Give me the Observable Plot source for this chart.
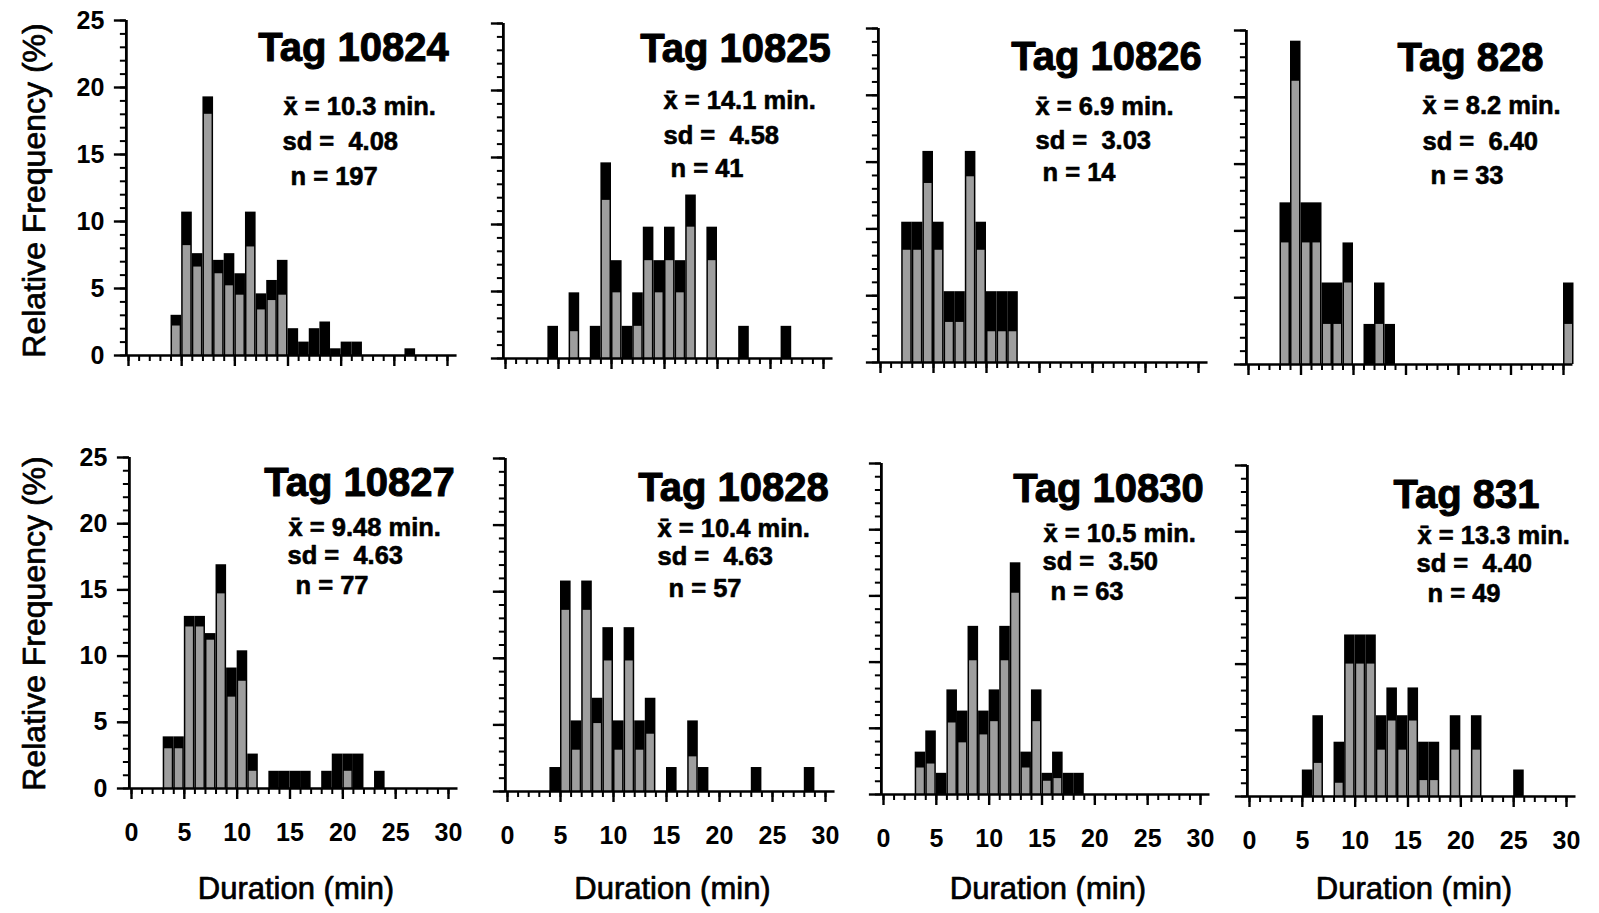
<!DOCTYPE html>
<html>
<head>
<meta charset="utf-8">
<script src="https://cdn.jsdelivr.net/npm/d3@7"></script>
<script src="https://cdn.jsdelivr.net/npm/@observablehq/plot@0.6"></script>
<style>
  body { margin: 0; background: #fff; }
  #page { position: relative; width: 1599px; height: 913px; overflow: hidden; background: #fff;
          font-family: "Liberation Sans", Arial, sans-serif; }
  #page svg { position: absolute; }
</style>
</head>
<body>
<div id="page"></div>
<script>
// ---------------- DATA ----------------
const tagNames = ["Tag 10824", "Tag 10825", "Tag 10826", "Tag 828",
                  "Tag 10827", "Tag 10828", "Tag 10830", "Tag 831"];
const meanLabels = ["10.3", "14.1", "6.9", "8.2", "9.48", "10.4", "10.5", "13.3"];
const sdLabels = ["4.08", "4.58", "3.03", "6.40", "4.63", "4.63", "3.50", "4.40"];
const nLabels = ["197", "41", "14", "33", "77", "57", "63", "49"];

// bin start (minutes), total bar height (%), shaded (grey) part (%)
const tag10824Bins   = [4, 5, 6, 7, 8, 9, 10, 11, 12, 13, 14, 15, 16, 17, 18, 19, 20, 21, 26];
const tag10824Total  = [3.0, 10.7, 7.6, 19.3, 7.1, 7.6, 6.1, 10.7, 4.6, 5.6, 7.1, 2.0, 1.0, 2.0, 2.5, 0.5, 1.0, 1.0, 0.5];
const tag10824Shaded = [2.2, 8.2, 6.6, 18.0, 6.1, 5.2, 4.5, 8.1, 3.4, 4.1, 4.5, 0, 0, 0, 0, 0, 0, 0, 0];

const tag10825Bins   = [4, 6, 8, 9, 10, 11, 12, 13, 14, 15, 16, 17, 19, 22, 26];
const tag10825Total  = [2.4, 4.9, 2.4, 14.6, 7.3, 2.4, 4.9, 9.8, 7.3, 9.8, 7.3, 12.2, 9.8, 2.4, 2.4];
const tag10825Shaded = [0, 2.0, 0, 11.8, 4.9, 0, 2.4, 7.3, 4.9, 7.3, 4.9, 9.8, 7.3, 0, 0];

const tag10826Bins   = [2, 3, 4, 5, 6, 7, 8, 9, 10, 11, 12];
const tag10826Total  = [10.5, 10.5, 15.8, 10.5, 5.3, 5.3, 15.8, 10.5, 5.3, 5.3, 5.3];
const tag10826Shaded = [8.4, 8.4, 13.4, 8.4, 3.0, 3.0, 13.9, 8.4, 2.3, 2.3, 2.3];

const tag828Bins   = [3, 4, 5, 6, 7, 8, 9, 11, 12, 13, 30];
const tag828Total  = [12.1, 24.2, 12.1, 12.1, 6.1, 6.1, 9.1, 3.0, 6.1, 3.0, 6.1];
const tag828Shaded = [9.1, 21.2, 9.1, 9.1, 3.0, 3.0, 6.1, 0, 3.0, 0, 3.0];

const tag10827Bins   = [3, 4, 5, 6, 7, 8, 9, 10, 11, 13, 14, 15, 16, 18, 19, 20, 21, 23];
const tag10827Total  = [3.9, 3.9, 13.0, 13.0, 11.7, 16.9, 9.1, 10.4, 2.6, 1.3, 1.3, 1.3, 1.3, 1.3, 2.6, 2.6, 2.6, 1.3];
const tag10827Shaded = [3.0, 3.0, 12.2, 12.2, 11.2, 14.7, 6.9, 8.1, 1.3, 0, 0, 0, 0, 0, 0, 1.3, 0, 0];

const tag10828Bins   = [4, 5, 6, 7, 8, 9, 10, 11, 12, 13, 15, 17, 18, 23, 28];
const tag10828Total  = [1.8, 15.8, 5.3, 15.8, 7.0, 12.3, 5.3, 12.3, 5.3, 7.0, 1.8, 5.3, 1.8, 1.8, 1.8];
const tag10828Shaded = [0, 13.6, 3.1, 13.6, 5.1, 9.8, 3.1, 9.8, 3.1, 4.3, 0, 2.6, 0, 0, 0];

const tag10830Bins   = [3, 4, 5, 6, 7, 8, 9, 10, 11, 12, 13, 14, 15, 16, 17, 18];
const tag10830Total  = [3.2, 4.8, 1.6, 7.9, 6.3, 12.7, 6.3, 7.9, 12.7, 17.5, 3.2, 7.9, 1.6, 3.2, 1.6, 1.6];
const tag10830Shaded = [2.0, 2.3, 0, 5.4, 3.9, 10.1, 4.5, 5.5, 10.1, 15.2, 2.0, 5.5, 1.0, 1.2, 0, 0];

const tag831Bins   = [5, 6, 8, 9, 10, 11, 12, 13, 14, 15, 16, 17, 19, 21, 25];
const tag831Total  = [2.0, 6.1, 4.1, 12.2, 12.2, 12.2, 6.1, 8.2, 6.1, 8.2, 4.1, 4.1, 6.1, 6.1, 2.0];
const tag831Shaded = [0, 2.5, 1.0, 10.0, 10.0, 10.0, 3.5, 5.7, 3.5, 5.7, 1.2, 1.2, 3.5, 3.5, 0];

const xMajorTicks = [0, 5, 10, 15, 20, 25, 30];
const yMajorTicks = [0, 5, 10, 15, 20, 25];
const xMinorTicks = d3.range(0, 31);
const yMinorTicks = d3.range(0, 26);
const yTitle = "Relative Frequency (%)";
const xTitle = "Duration (min)";

// ---------------- LAYOUT ----------------
const panelsData = [
  [tag10824Bins, tag10824Total, tag10824Shaded],
  [tag10825Bins, tag10825Total, tag10825Shaded],
  [tag10826Bins, tag10826Total, tag10826Shaded],
  [tag828Bins, tag828Total, tag828Shaded],
  [tag10827Bins, tag10827Total, tag10827Shaded],
  [tag10828Bins, tag10828Total, tag10828Shaded],
  [tag10830Bins, tag10830Total, tag10830Shaded],
  [tag831Bins, tag831Total, tag831Shaded]
];
const X_DOMAIN = [-0.2, 30.9];
const Y_DOMAIN = [0, 25];
// page pixel anchors of x=0 / x=30 and y=25 / y=0 for each panel (scan is slightly tilted)
const G = {
  x0:  [128, 505, 880, 1248, 131, 507, 883, 1249],
  x30: [447, 823, 1198, 1563, 448, 825, 1200, 1566],
  y25: [20, 23, 28, 30, 457, 458, 463, 465],
  y0:  [355, 358, 362, 364, 788, 791, 794, 796]
};
// text placements (page px): title centre, stats left/centre-y
const T = [
  {t: [353, 48],  m: [283, 106], s: [282, 141], n: [290, 176]},
  {t: [735, 49],  m: [663, 100], s: [663, 135], n: [670, 168]},
  {t: [1106, 57], m: [1035, 106], s: [1035, 140], n: [1042, 172]},
  {t: [1470, 58], m: [1422, 105], s: [1422, 141], n: [1430, 175]},
  {t: [359, 483], m: [288, 527], s: [287, 555], n: [295, 585]},
  {t: [733, 488], m: [657, 528], s: [657, 556], n: [668, 588]},
  {t: [1108, 489], m: [1043, 533], s: [1042, 561], n: [1050, 591]},
  {t: [1466, 495], m: [1417, 535], s: [1416, 563], n: [1427, 593]}
];
const GREY = "#9e9e9e";

const page = document.getElementById("page");

for (let i = 0; i < 8; i++) {
  const row = i < 4 ? 0 : 1, col = i % 4;
  const [bins, total, shaded] = panelsData[i];
  const data = bins.map((b, j) => ({b, total: total[j], shaded: shaded[j]}));
  const x0 = G.x0[i], x30 = G.x30[i];
  const ppm = (x30 - x0) / 30;
  const frameL = x0 + X_DOMAIN[0] * ppm, frameR = x0 + X_DOMAIN[1] * ppm;
  const yTop = G.y25[i], yBot = G.y0[i];
  const svgTop = row ? 420 : 0, svgH = row ? 493 : 420;
  const svgLeft = col === 0 ? 0 : Math.floor(frameL - 32);
  const svgRight = col === 3 ? 1599 : Math.ceil(frameR + 8);
  const fx = px => px - frameL, fy = py => py - yTop;
  const L = T[i];
  const bold = {fontWeight: "bold", fill: "black", stroke: "black"};

  const marks = [
    Plot.rect(data, {x1: "b", x2: d => d.b + 1, y1: 0, y2: "total", fill: "black"}),
    Plot.rect(data.filter(d => d.shaded > 0),
      {x1: "b", x2: d => d.b + 1, y1: 0, y2: "shaded", fill: GREY, insetLeft: 1.5, insetRight: 1.5}),
    Plot.ruleY([0], {strokeWidth: 2.5}),
    Plot.ruleX([X_DOMAIN[0]], {strokeWidth: 2.8}),
    Plot.axisX(xMinorTicks, {tickSize: 6, tickFormat: () => "", label: null, strokeWidth: 2}),
    Plot.axisX(xMajorTicks, {tickSize: 11, tickPadding: 24, label: null, strokeWidth: 2.4,
      tickFormat: row ? (d => String(d)) : (() => ""), fontSize: 25, fontWeight: "bold"}),
    Plot.axisY(yMinorTicks, {tickSize: 6, tickFormat: () => "", label: null, strokeWidth: 2}),
    Plot.axisY(yMajorTicks, {tickSize: 12, tickPadding: 10, label: null, strokeWidth: 2.4,
      tickFormat: col === 0 ? (d => String(d)) : (() => ""), fontSize: 25, fontWeight: "bold"}),
    Plot.text([tagNames[i]], {text: d => d, frameAnchor: "top-left", dx: fx(L.t[0]), dy: fy(L.t[1]),
      textAnchor: "middle", lineAnchor: "middle", fontSize: 40, ...bold, strokeWidth: 1}),
    Plot.text(["x\u0304 = " + meanLabels[i] + " min."], {text: d => d, frameAnchor: "top-left",
      dx: fx(L.m[0]), dy: fy(L.m[1]), textAnchor: "start", lineAnchor: "middle", fontSize: 25.5, ...bold, strokeWidth: 0.6}),
    Plot.text(["sd =\u00a0 " + sdLabels[i]], {text: d => d, frameAnchor: "top-left",
      dx: fx(L.s[0]), dy: fy(L.s[1]), textAnchor: "start", lineAnchor: "middle", fontSize: 25.5, ...bold, strokeWidth: 0.6}),
    Plot.text(["n = " + nLabels[i]], {text: d => d, frameAnchor: "top-left",
      dx: fx(L.n[0]), dy: fy(L.n[1]), textAnchor: "start", lineAnchor: "middle", fontSize: 25.5, ...bold, strokeWidth: 0.6})
  ];
  if (col === 0) {
    marks.push(Plot.text([yTitle], {text: d => d, frameAnchor: "top-left",
      dx: fx(34), dy: fy(row ? 623 : 190), rotate: -90, textAnchor: "middle", lineAnchor: "middle",
      fontSize: 32, fill: "black", stroke: "black", strokeWidth: 0.7}));
  }
  if (row === 1) {
    marks.push(Plot.text([xTitle], {text: d => d, frameAnchor: "top-left",
      dx: fx((x0 + x30) / 2 + 6), dy: fy(889), textAnchor: "middle", lineAnchor: "middle",
      fontSize: 31, fill: "black", stroke: "black", strokeWidth: 0.7}));
  }

  const svg = Plot.plot({
    width: svgRight - svgLeft,
    height: svgH,
    marginLeft: frameL - svgLeft,
    marginRight: svgRight - frameR,
    marginTop: yTop - svgTop,
    marginBottom: svgTop + svgH - yBot,
    x: {domain: X_DOMAIN},
    y: {domain: Y_DOMAIN},
    style: {background: "transparent", overflow: "visible", fontFamily: "'Liberation Sans', Arial, sans-serif", color: "black"},
    marks
  });
  svg.style.left = svgLeft + "px";
  svg.style.top = svgTop + "px";
  page.appendChild(svg);
}
</script>
</body>
</html>
